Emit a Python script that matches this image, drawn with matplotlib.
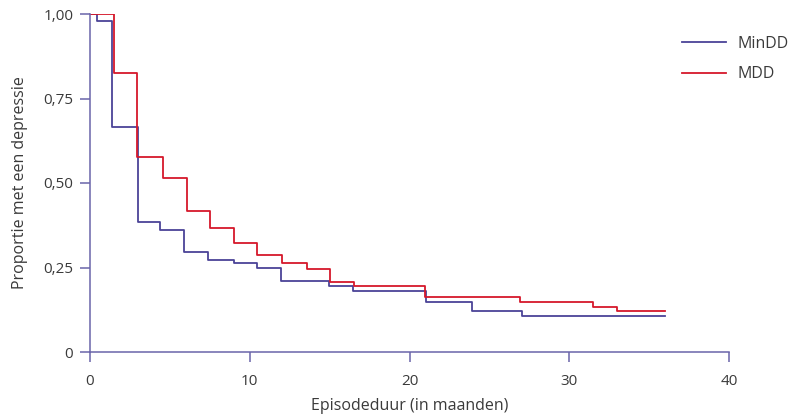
import matplotlib
matplotlib.use("Agg")
import matplotlib.pyplot as plt

# Kaplan-Meier style step curves
mindd_t = [0, 0.42, 1.40, 2.99, 4.40, 5.88, 7.41, 9.0, 10.43, 11.94, 14.98, 16.44, 21.03, 23.91, 27.06, 36]
mindd_p = [1.0, 0.980, 0.665, 0.386, 0.361, 0.295, 0.272, 0.262, 0.250, 0.211, 0.196, 0.181, 0.147, 0.121, 0.106, 0.106]

mdd_t = [0, 1.52, 2.94, 4.59, 6.07, 7.49, 9.0, 10.47, 12.0, 13.56, 15.02, 16.54, 20.99, 26.94, 31.5, 33.0, 36]
mdd_p = [1.0, 0.826, 0.578, 0.514, 0.416, 0.367, 0.323, 0.287, 0.262, 0.245, 0.207, 0.196, 0.163, 0.149, 0.132, 0.121, 0.121]

x_ticks = [0, 10, 20, 30, 40]
y_ticks = [0, 0.25, 0.50, 0.75, 1.00]
y_labels = ["0", "0,25", "0,50", "0,75", "1,00"]

plt.rcParams["font.family"] = ["Open Sans", "DejaVu Sans"]
text_col = "#3a3a3a"
axis_col = "#6a64aa"

fig = plt.figure(figsize=(7.94, 4.2), dpi=100)
ax = fig.add_axes([90 / 794, 1 - 352 / 420, 639 / 794, 338 / 420])

ax.step(mindd_t, mindd_p, where="post", color="#4b4397", lw=1.3, label="MinDD")
ax.step(mdd_t, mdd_p, where="post", color="#d5182b", lw=1.3, label="MDD")

ax.set_xlim(0, 40)
ax.set_ylim(0, 1)
ax.set_xticks(x_ticks)
ax.set_yticks(y_ticks)
ax.set_yticklabels(y_labels)

for side in ["top", "right"]:
    ax.spines[side].set_visible(False)
for side in ["left", "bottom"]:
    ax.spines[side].set_color(axis_col)
    ax.spines[side].set_linewidth(1.1)
ax.tick_params(colors=axis_col, labelcolor=text_col, labelsize=11, length=7, width=1.1)
ax.tick_params(axis="x", pad=9)
ax.tick_params(axis="y", pad=5)

ax.set_xlabel("Episodeduur (in maanden)", fontsize=11.5, color=text_col, labelpad=6)
ax.set_ylabel("Proportie met een depressie", fontsize=11.5, color=text_col, labelpad=11)

fig.legend(loc="upper left", bbox_to_anchor=(682 / 794, 1 - 36 / 420), frameon=False,
           fontsize=11.5, handlelength=2.75, handletextpad=0.75, labelspacing=0.9,
           borderpad=0, borderaxespad=0, labelcolor=text_col)

fig.savefig("out.png", dpi=100)
